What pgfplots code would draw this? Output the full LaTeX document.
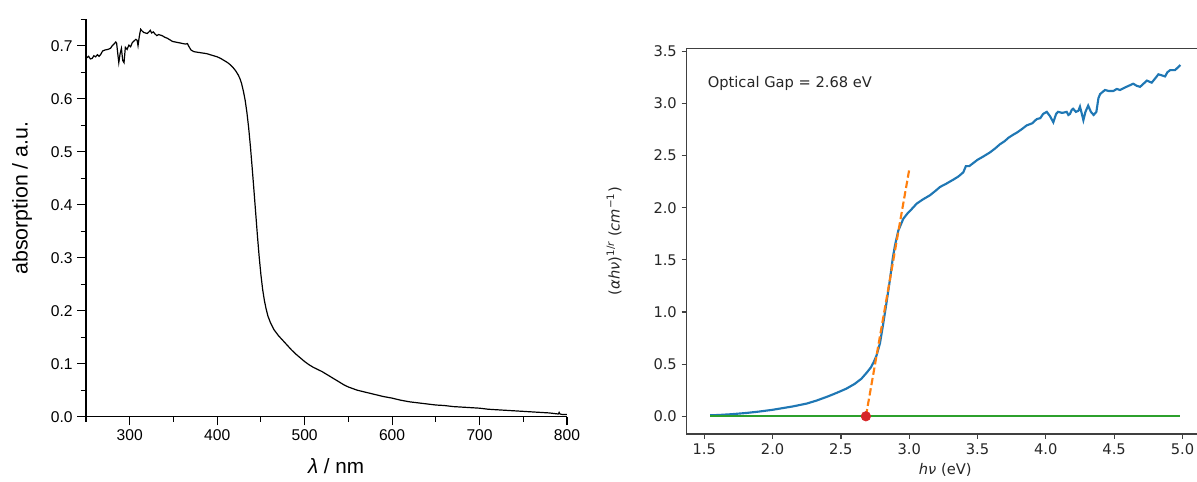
\documentclass[border=0pt]{standalone}
\usepackage{fontspec}
\setmainfont{Liberation Sans}
\newfontfamily\dejavu{DejaVu Sans}
\usepackage{pgfplots}
\pgfplotsset{compat=1.18}
\definecolor{mplblue}{HTML}{1F77B4}
\definecolor{mplorange}{HTML}{FF7F0E}
\definecolor{mplgreen}{HTML}{2CA02C}
\definecolor{mplred}{HTML}{D62728}

\begin{document}
\begin{tikzpicture}
\useasboundingbox (0,0) rectangle (897.75pt,361.5pt);
% left: absorption spectrum (Origin style)
\begin{axis}[
  at={(64.5pt,49pt)}, anchor=south west,
  scale only axis, width=360.75pt, height=298.1pt,
  xmin=250, xmax=800, ymin=0, ymax=0.75,
  axis x line*=bottom, axis y line*=left,
  axis line style={black, line width=0.8pt},
  tick style={black, line width=0.8pt},
  tick align=outside,
  major tick length=6.5pt, minor tick length=4pt,
  xtick={300,400,500,600,700,800},
  minor xtick={250,350,450,550,650,750},
  ytick={0,0.1,0.2,0.3,0.4,0.5,0.6,0.7},
  minor ytick={0.05,0.15,0.25,0.35,0.45,0.55,0.65,0.75},
  yticklabel style={/pgf/number format/fixed, /pgf/number format/fixed zerofill,
    /pgf/number format/precision=1},
  /pgf/number format/assume math mode=true,
  tick label style={font=\fontsize{11.7}{14}\selectfont},
  xlabel={\textit{λ} / nm},
  ylabel={absorption / a.u.},
  xlabel style={font=\fontsize{15.5}{18}\selectfont, at={(axis description cs:0.52,-0.124)}, anchor=center},
  ylabel style={font=\fontsize{16}{19}\selectfont, at={(axis description cs:-0.133,0.55)}, anchor=center},
  clip=false,
]
\addplot[black, line width=0.9pt] coordinates {
(250,0.676) (253,0.680) (255,0.675) (257,0.676) (259,0.681) (261,0.679) (263,0.683) (265,0.680)
(267,0.684) (269,0.690) (272,0.692) (275,0.693) (278,0.695) (280,0.700) (282,0.703) (284,0.707)
(285,0.705) (286,0.690) (287.5,0.668) (289,0.685) (290.5,0.695) (292,0.672) (293.5,0.668) (295,0.697)
(297,0.693) (299,0.701) (301,0.698) (303,0.706) (305,0.709) (307,0.712) (308.5,0.710) (309.5,0.700)
(311,0.718) (312.5,0.731) (314,0.728) (316,0.725) (318,0.724) (320,0.723) (322,0.726) (323.5,0.729)
(325,0.724) (327,0.726) (329,0.722) (331,0.719) (333,0.721) (335,0.720) (337,0.719) (340,0.716)
(343,0.714) (346,0.711) (349,0.708) (352,0.707) (355,0.706) (358,0.705) (361,0.704) (364,0.703)
(366,0.704) (367.5,0.699) (370,0.692) (373,0.689) (376,0.688) (380,0.687) (384,0.686) (388,0.685)
(392,0.683) (396,0.681) (400,0.679) (404,0.676) (408,0.672) (412,0.668) (415,0.664) (418,0.659)
(421,0.653) (424,0.645) (426,0.638) (428,0.628) (430,0.614) (432,0.597) (434,0.574) (436,0.545)
(438,0.510) (440,0.470) (442,0.428) (444,0.385) (446,0.342) (448,0.302) (450,0.268) (452,0.240)
(454,0.219) (456,0.203) (458,0.190) (461,0.177) (465,0.164) (470,0.153) (475,0.144) (480,0.135)
(485,0.126) (490,0.118) (495,0.111) (500,0.104) (505,0.098) (510,0.093) (515,0.089) (520,0.085)
(525,0.080) (530,0.075) (535,0.070) (540,0.065) (545,0.060) (550,0.056) (555,0.053) (560,0.050)
(570,0.046) (580,0.042) (590,0.038) (600,0.035) (610,0.031) (620,0.028) (630,0.026) (640,0.024)
(650,0.022) (660,0.021) (670,0.019) (680,0.018) (690,0.017) (700,0.016) (710,0.014) (720,0.013)
(730,0.012) (740,0.011) (750,0.010) (760,0.009) (770,0.008) (780,0.007) (785,0.006) (790,0.005)
(791,0.008) (792,0.005) (795,0.004) (800,0.004)
};
\end{axis}
% right: Tauc plot (matplotlib style)
\begin{axis}[
  at={(514.9pt,36pt)}, anchor=south west,
  scale only axis, width=388pt, height=289.3pt,
  xmin=1.37, xmax=5.157, ymin=-0.17, ymax=3.53,
  axis line style={black!75, line width=1pt},
  tick style={black!75, line width=0.9pt},
  tick align=outside, major tick length=3.75pt,
  xtick pos=lower, ytick pos=left,
  xtick={1.5,2,2.5,3,3.5,4,4.5,5},
  ytick={0,0.5,1,1.5,2,2.5,3,3.5},
  /pgf/number format/fixed, /pgf/number format/fixed zerofill,
  /pgf/number format/precision=1,
  /pgf/number format/assume math mode=true,
  tick label style={font=\dejavu\fontsize{11}{13}\selectfont, text=black!85},
  xlabel={{\itshape hν} (eV)},
  ylabel={({\itshape αhν})\textsuperscript{1/{\itshape r}} ({\itshape cm}\textsuperscript{−1})},
  label style={font=\dejavu\fontsize{11}{13}\selectfont, text=black!85},
  xlabel style={at={(axis description cs:0.5,-0.093)}, anchor=center},
  ylabel style={at={(axis description cs:-0.14,0.5)}, anchor=center},
  clip=false,
]
\addplot[mplblue, line width=1.6pt] coordinates {
(1.542,0.010) (1.60,0.012) (1.70,0.020) (1.81,0.032) (1.90,0.045) (2.00,0.062) (2.054,0.074)
(2.15,0.095) (2.25,0.122) (2.32,0.150) (2.40,0.188) (2.47,0.225) (2.54,0.265) (2.60,0.310)
(2.65,0.360) (2.69,0.420) (2.72,0.470) (2.74,0.520) (2.76,0.580) (2.786,0.700) (2.81,0.890)
(2.835,1.10) (2.86,1.32) (2.88,1.52) (2.896,1.64) (2.92,1.78) (2.957,1.895) (2.99,1.95)
(3.02,1.99) (3.055,2.04) (3.10,2.08) (3.152,2.12) (3.19,2.16) (3.226,2.20) (3.27,2.23)
(3.323,2.27) (3.36,2.30) (3.396,2.34) (3.415,2.40) (3.44,2.40) (3.47,2.43) (3.50,2.46)
(3.54,2.49) (3.59,2.53) (3.63,2.57) (3.665,2.61) (3.70,2.64) (3.725,2.67) (3.76,2.70)
(3.787,2.72) (3.82,2.75) (3.86,2.79) (3.90,2.81) (3.933,2.85) (3.96,2.86) (3.98,2.90)
(4.007,2.92) (4.03,2.88) (4.055,2.82) (4.075,2.90) (4.09,2.92) (4.12,2.91) (4.153,2.92)
(4.165,2.89) (4.177,2.90) (4.19,2.94) (4.20,2.95) (4.22,2.92) (4.238,2.93) (4.25,2.97)
(4.262,2.91) (4.275,2.84) (4.29,2.92) (4.31,2.98) (4.33,2.92) (4.35,2.89) (4.37,2.92)
(4.385,3.05) (4.397,3.09) (4.433,3.13) (4.46,3.12) (4.494,3.12) (4.52,3.14) (4.543,3.13)
(4.59,3.16) (4.64,3.19) (4.665,3.17) (4.69,3.16) (4.715,3.19) (4.74,3.22) (4.775,3.20)
(4.80,3.24) (4.824,3.28) (4.85,3.27) (4.873,3.26) (4.89,3.30) (4.91,3.32) (4.946,3.32)
(4.985,3.37)
};
\addplot[mplorange, line width=1.6pt, dash pattern=on 5.5pt off 2.4pt] coordinates {(2.683,0) (3.0,2.365)};
\addplot[mplgreen, line width=1.6pt] coordinates {(1.542,0) (4.985,0)};
\addplot[only marks, mark=*, mark size=3.6pt, mark options={draw=mplred, fill=mplred}] coordinates {(2.683,0)};
\node[anchor=base west, font=\dejavu\fontsize{11}{13}\selectfont, text=black!85]
  at (axis description cs:0.032,0.898) {Optical Gap = 2.68 eV};
\end{axis}
\end{tikzpicture}
\end{document}
